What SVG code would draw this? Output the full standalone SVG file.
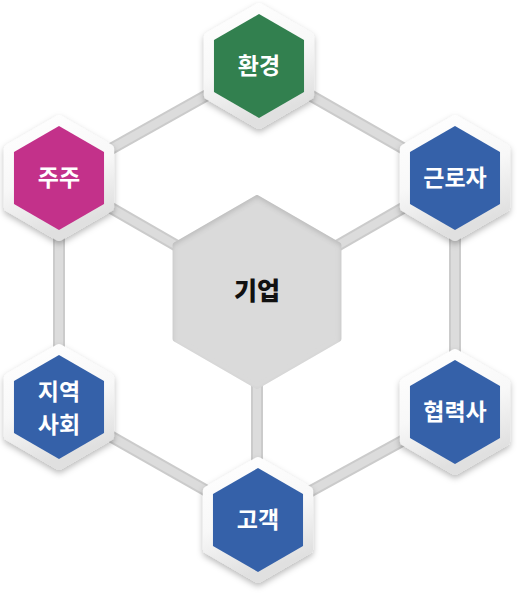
<svg xmlns="http://www.w3.org/2000/svg" xmlns:xlink="http://www.w3.org/1999/xlink" width="519" height="593" viewBox="0 0 519 593">
<defs>
<linearGradient id="ringGrad" x1="0" y1="0" x2="0.3" y2="1">
<stop offset="0" stop-color="#ffffff"/>
<stop offset="0.55" stop-color="#f8f8f8"/>
<stop offset="1" stop-color="#e0e0e0"/>
</linearGradient>
<filter id="drop" x="-30%" y="-30%" width="160%" height="160%">
<feDropShadow dx="0" dy="3" stdDeviation="3" flood-color="#000" flood-opacity="0.28"/>
</filter>
<filter id="inner" x="-10%" y="-10%" width="120%" height="120%">
<feGaussianBlur in="SourceAlpha" stdDeviation="2.5"/>
<feOffset dy="3" result="off"/>
<feComposite in="SourceAlpha" in2="off" operator="out" result="inv"/>
<feFlood flood-color="#000" flood-opacity="0.28"/>
<feComposite in2="inv" operator="in" result="shadow"/>
<feMerge><feMergeNode in="SourceGraphic"/><feMergeNode in="shadow"/></feMerge>
</filter>
<polygon id="outerHex" points="0,-59 51.1,-29.5 51.1,29.5 0,59 -51.1,29.5 -51.1,-29.5"/>
<polygon id="innerHex" points="0,-52 45.03,-26 45.03,26 0,52 -45.03,26 -45.03,-26"/>
</defs>
<style>
.conn-edge{stroke:#cbcbcb;stroke-width:12;fill:none}
.conn-core{stroke:#dcdcdc;stroke-width:8;fill:none}
.ring{fill:url(#ringGrad);stroke:url(#ringGrad);stroke-width:8;stroke-linejoin:round;filter:url(#drop)}
.green{fill:#32804f}
.magenta{fill:#c3318a}
.blue{fill:#3561a9}
.lbl{font-family:"Noto Sans CJK KR","Noto Sans",sans-serif;font-weight:700;font-size:23px;fill:#ffffff;text-anchor:middle}
.center-lbl{font-family:"Noto Sans CJK KR","Noto Sans",sans-serif;font-weight:900;font-size:25px;fill:#111111;text-anchor:middle}
</style>
<rect width="519" height="593" fill="#ffffff"/>
<g id="connectors">
<g class="conn-edge">
<line x1="259" y1="66" x2="455" y2="178"/>
<line x1="455" y1="178" x2="455" y2="412"/>
<line x1="455" y1="412" x2="258" y2="520"/>
<line x1="258" y1="520" x2="59" y2="407"/>
<line x1="59" y1="407" x2="59" y2="178"/>
<line x1="59" y1="178" x2="259" y2="66"/>
<line x1="59" y1="178" x2="257" y2="292"/>
<line x1="455" y1="178" x2="257" y2="292"/>
<line x1="257" y1="520" x2="257" y2="292"/>
</g>
<g class="conn-core">
<line x1="259" y1="66" x2="455" y2="178"/>
<line x1="455" y1="178" x2="455" y2="412"/>
<line x1="455" y1="412" x2="258" y2="520"/>
<line x1="258" y1="520" x2="59" y2="407"/>
<line x1="59" y1="407" x2="59" y2="178"/>
<line x1="59" y1="178" x2="259" y2="66"/>
<line x1="59" y1="178" x2="257" y2="292"/>
<line x1="455" y1="178" x2="257" y2="292"/>
<line x1="257" y1="520" x2="257" y2="292"/>
</g>
</g>
<g id="center">
<polygon points="257,198 338.4,245 338.4,339 257,386 175.6,339 175.6,245" fill="#dadada" stroke="#dadada" stroke-width="6" stroke-linejoin="round" filter="url(#inner)"/>
<text class="center-lbl" x="257" y="300">기업</text>
</g>
<g id="node-env" transform="translate(259,66)">
<use xlink:href="#outerHex" class="ring"/>
<use xlink:href="#innerHex" class="green"/>
<text class="lbl" x="0" y="8">환경</text>
</g>
<g id="node-worker" transform="translate(455,178)">
<use xlink:href="#outerHex" class="ring"/>
<use xlink:href="#innerHex" class="blue"/>
<text class="lbl" x="0" y="8">근로자</text>
</g>
<g id="node-partner" transform="translate(455,412)">
<use xlink:href="#outerHex" class="ring"/>
<use xlink:href="#innerHex" class="blue"/>
<text class="lbl" x="0" y="8">협력사</text>
</g>
<g id="node-customer" transform="translate(258,520)">
<use xlink:href="#outerHex" class="ring"/>
<use xlink:href="#innerHex" class="blue"/>
<text class="lbl" x="0" y="8">고객</text>
</g>
<g id="node-community" transform="translate(59,407)">
<use xlink:href="#outerHex" class="ring"/>
<use xlink:href="#innerHex" class="blue"/>
<text class="lbl" x="0" y="-7">지역</text>
<text class="lbl" x="0" y="26">사회</text>
</g>
<g id="node-shareholder" transform="translate(59,178)">
<use xlink:href="#outerHex" class="ring"/>
<use xlink:href="#innerHex" class="magenta"/>
<text class="lbl" x="0" y="8">주주</text>
</g>
</svg>
